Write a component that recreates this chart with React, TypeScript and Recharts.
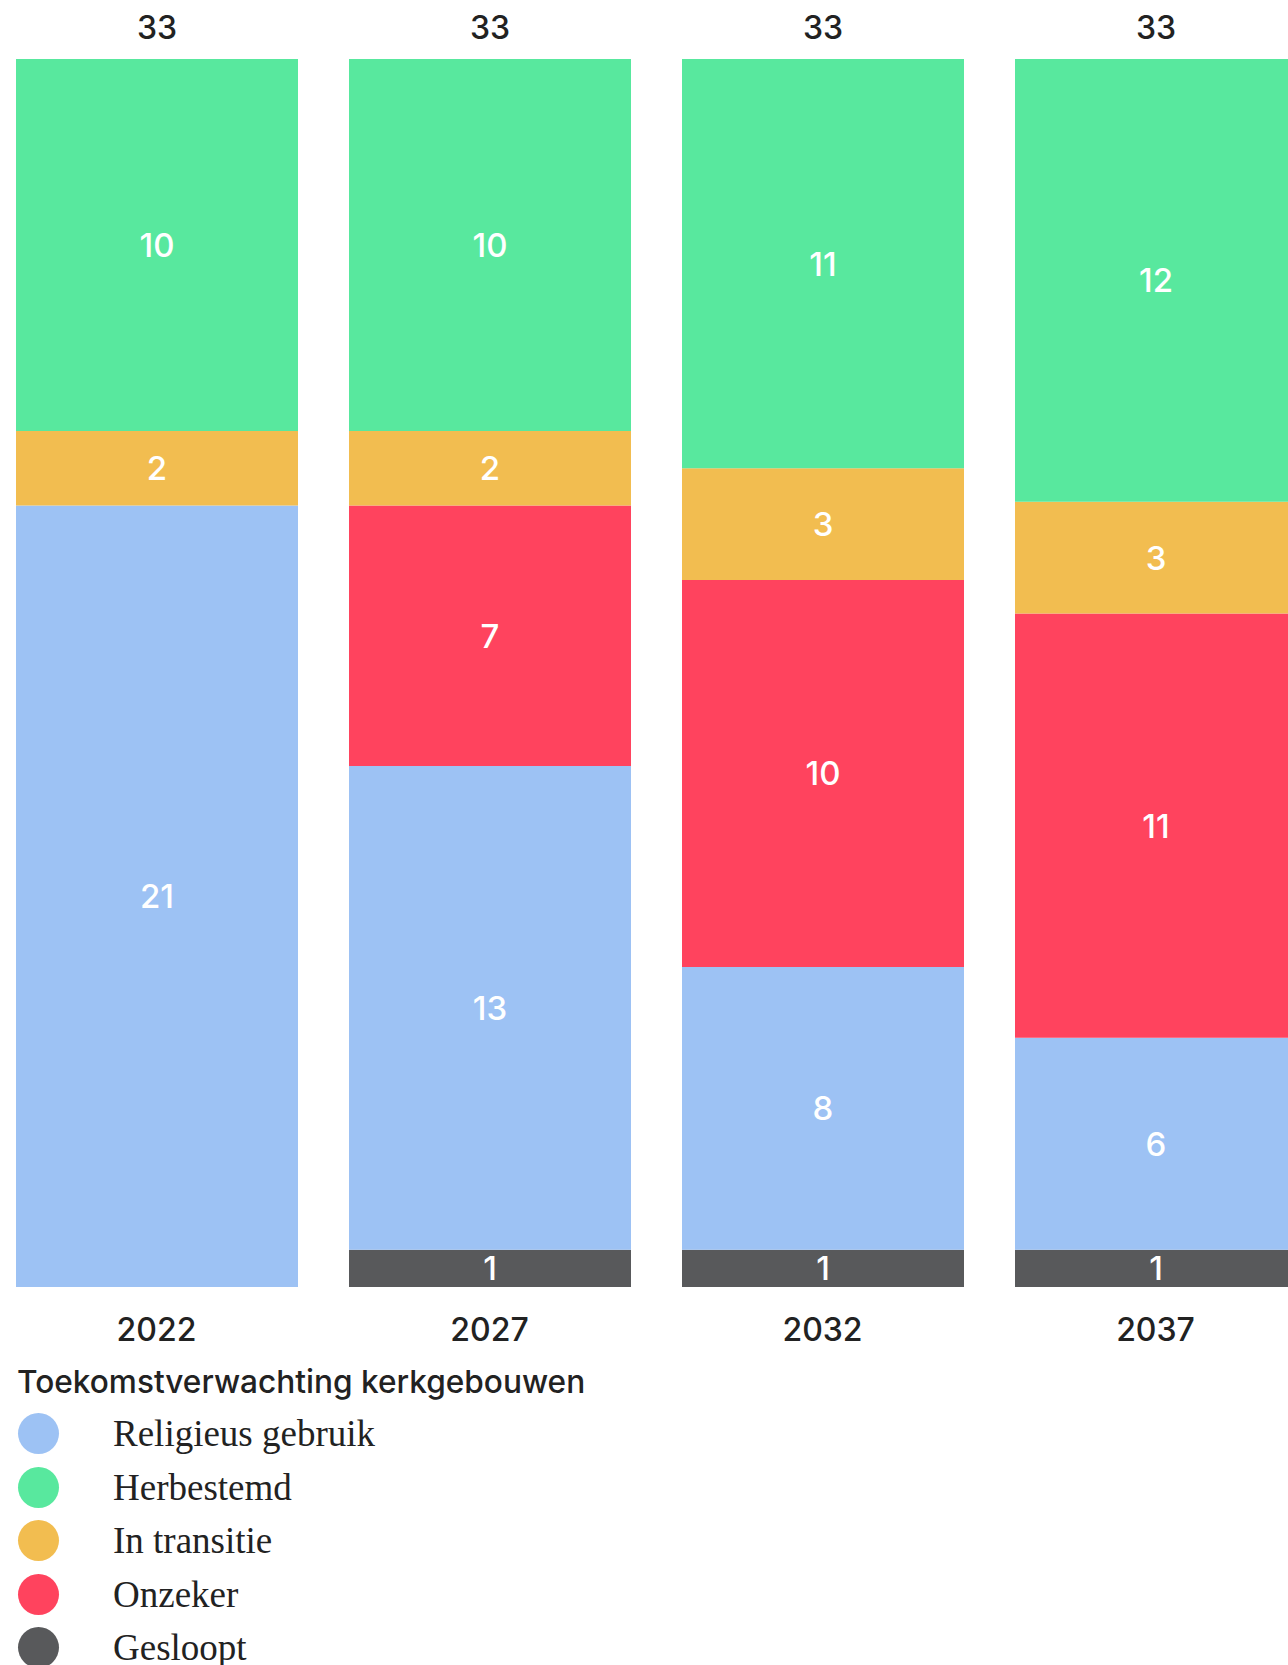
import { BarChart, Bar, XAxis, YAxis, LabelList } from 'recharts'

const years = ['2022', '2027', '2032', '2037']
const gesloopt = [0, 1, 1, 1]
const religieus = [21, 13, 7.6, 5.7]
const onzeker = [0, 7, 10.4, 11.4]
const transitie = [2, 2, 3, 3]
const herbestemd = [10, 10, 11, 11.9]

const series = [
  { key: 'religieus', name: 'Religieus gebruik', color: '#9DC2F4' },
  { key: 'herbestemd', name: 'Herbestemd', color: '#58E89E' },
  { key: 'transitie', name: 'In transitie', color: '#F2BD50' },
  { key: 'onzeker', name: 'Onzeker', color: '#FF435E' },
  { key: 'gesloopt', name: 'Gesloopt', color: '#58595B' },
]
// stacking order, bottom to top
const stackOrder = ['gesloopt', 'religieus', 'onzeker', 'transitie', 'herbestemd']

const data = years.map((year, i) => ({
  year,
  gesloopt: gesloopt[i],
  religieus: religieus[i],
  onzeker: onzeker[i],
  transitie: transitie[i],
  herbestemd: herbestemd[i],
  total: gesloopt[i] + religieus[i] + onzeker[i] + transitie[i] + herbestemd[i],
}))

const SANS = 'Inter, "Noto Sans", sans-serif'
const INK = '#222222'

function SegmentLabel(props: any) {
  const { x, y, width, height, value } = props
  if (!value) return null
  return (
    <text
      x={Number(x) + Number(width) / 2}
      y={Number(y) + Number(height) / 2}
      fill="#ffffff"
      fontSize={33}
      fontFamily={SANS}
      fontWeight={500}
      textAnchor="middle"
      dominantBaseline="central"
    >
      {Math.round(Number(value))}
    </text>
  )
}

function TotalLabel(props: any) {
  const { x, y, width, value } = props
  return (
    <text
      x={Number(x) + Number(width) / 2}
      y={Number(y) - 32}
      fill={INK}
      fontSize={32}
      fontFamily={SANS}
      fontWeight={500}
      textAnchor="middle"
      dominantBaseline="central"
    >
      {Math.round(Number(value))}
    </text>
  )
}

function YearTick(props: any) {
  const { x, y, payload } = props
  return (
    <text
      x={x}
      y={Number(y) + 42}
      fill={INK}
      fontSize={32}
      fontFamily={SANS}
      fontWeight={500}
      textAnchor="middle"
      dominantBaseline="central"
    >
      {payload.value}
    </text>
  )
}

export default function App() {
  const colorOf = (k: string) => series.find((s) => s.key === k)!.color
  return (
    <div style={{ position: 'absolute', left: 0, top: 0, width: 1288, height: 1665, overflow: 'hidden', background: '#fff' }}>
      <div style={{ position: 'absolute', left: -10, top: 0 }}>
        <BarChart width={1332} height={1400} data={data} margin={{ top: 59, right: 0, bottom: 0, left: 0 }}>
          <XAxis dataKey="year" height={113} axisLine={false} tickLine={false} tickSize={0} tickMargin={0} tick={<YearTick />} interval={0} />
          <YAxis hide domain={[0, 33]} />
          {stackOrder.map((k, i) => (
            <Bar key={k} dataKey={k} stackId="a" fill={colorOf(k)} barSize={282} isAnimationActive={false}>
              <LabelList dataKey={k} content={<SegmentLabel />} />
              {i === stackOrder.length - 1 && <LabelList dataKey="total" content={<TotalLabel />} />}
            </Bar>
          ))}
        </BarChart>
      </div>
      <div style={{ position: 'absolute', left: 17, top: 1362, fontFamily: SANS, fontWeight: 500, fontSize: 31.6, lineHeight: '40px', color: INK, whiteSpace: 'nowrap' }}>
        Toekomstverwachting kerkgebouwen
      </div>
      <div style={{ position: 'absolute', left: 18, top: 1407, width: 900 }}>
        {series.map((s) => (
          <div key={s.key} style={{ display: 'flex', alignItems: 'center', height: 53.5 }}>
            <span style={{ display: 'inline-block', width: 41, height: 41, borderRadius: '50%', background: s.color, flex: 'none' }} />
            <span style={{ marginLeft: 54, fontFamily: '"Liberation Serif", serif', fontSize: 37, color: INK, whiteSpace: 'nowrap' }}>{s.name}</span>
          </div>
        ))}
      </div>
    </div>
  )
}
